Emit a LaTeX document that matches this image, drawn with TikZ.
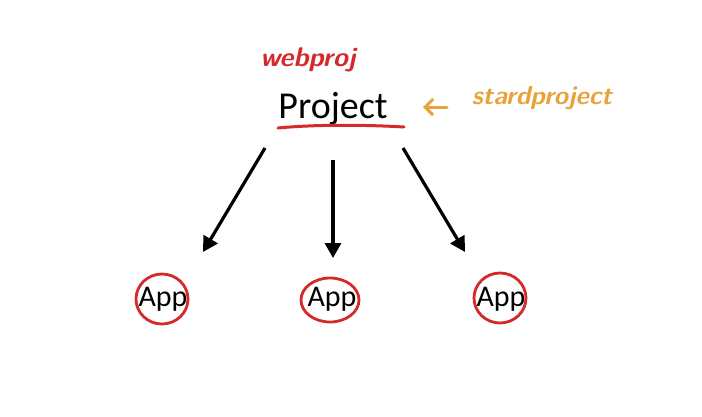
\documentclass[tikz,border=0pt]{standalone}
\usepackage{fontspec}
\setmainfont{Carlito}
\usetikzlibrary{arrows.meta}
\definecolor{inkred}{HTML}{D42A2A}
\definecolor{inkorange}{HTML}{E8A33A}
\tikzset{
  label/.style={inner sep=0pt, text=black},
  conn/.style={line width=3.2pt, -{Triangle[length=15pt,width=16pt]}},
  ring/.style={draw=inkred, line width=2.8pt},
  hand/.style={inner sep=0pt}
}
\begin{document}
\begin{tikzpicture}[x=1pt,y=-1pt]
\useasboundingbox[fill=white] (0,0) rectangle (702,416);
\node[label, font=\fontsize{38}{40}\selectfont] (proj) at (333,109) {Project};
\draw[inkred, line width=3pt, line cap=round] (278,128) .. controls (320,124) and (370,125) .. (404,127);
\node[hand, text=inkred, font=\fontsize{27}{29}\sffamily\bfseries\itshape] (web) at (308,60) {webproj};
\node[hand, text=inkorange, font=\fontsize{26}{28}\sffamily\bfseries\itshape] (start) at (542,98) {stardproject};
\coordinate (oa) at (447,107);
\coordinate (ob) at (423,107);
\draw[inkorange, line width=3pt, line cap=round, line join=round, -{Straight Barb[length=8pt,width=16pt]}] (oa) -- (ob);
\node[label, font=\fontsize{30}{32}\selectfont] (a1) at (163,299) {App};
\node[label, font=\fontsize{30}{32}\selectfont] (a2) at (332,299) {App};
\node[label, font=\fontsize{30}{32}\selectfont] (a3) at (501,299) {App};
\draw[ring] (162,299) ellipse (26 and 25);
\draw[ring] (330,300) ellipse (29 and 22);
\draw[ring] (500,298) ellipse (26 and 25);
\coordinate (s1) at (265,148);
\coordinate (s2) at (333,160);
\coordinate (s3) at (403,148);
\draw[conn] (s1) -- (203,252);
\draw[conn] (s2) -- (333,258);
\draw[conn] (s3) -- (465,252);
\end{tikzpicture}
\end{document}
